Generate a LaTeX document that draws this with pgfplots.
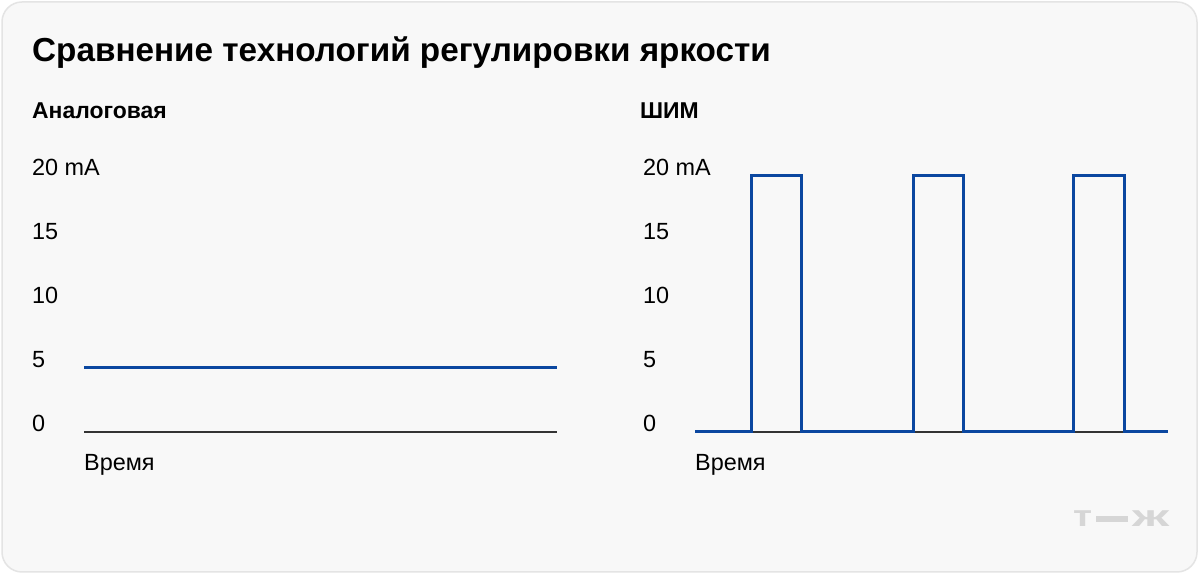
\documentclass[border=0pt]{standalone}
\usepackage{fontspec}
\setmainfont{Liberation Sans}
\usepackage{pgfplots}
\pgfplotsset{compat=1.18}
\definecolor{tjblue}{HTML}{0B47A0}
\definecolor{cardbg}{HTML}{F8F8F8}
\definecolor{cardborder}{HTML}{E4E4E4}
\definecolor{axisgray}{HTML}{333333}
\definecolor{logogray}{HTML}{D6D6D6}
\pgfplotsset{panel/.style={
  scale only axis, width=473bp, height=256bp,
  xmin=0, xmax=100, ymin=0, ymax=20,
  axis line style={draw=none}, major tick style={draw=none},
  xtick=\empty, ytick={0,5,10,15,20}, yticklabels={0,5,10,15,20 mA},
  yticklabel style={anchor=base west, inner sep=0pt, xshift=-52bp, font=\fontsize{23.5}{27}\selectfont},
  clip=false, anchor=south west}}
\begin{document}
\begin{tikzpicture}[x=1bp,y=1bp]
\path[use as bounding box] (0,0) rectangle (1200,575);
\fill[white] (0,0) rectangle (1200,575);
\draw[draw=cardborder, fill=cardbg, rounded corners=20bp, line width=1.5bp] (2,3) rectangle (1197,573);
\node[anchor=base west, inner sep=0pt, font=\fontsize{33.4}{38}\selectfont\bfseries] at (32,513) {Сравнение технологий регулировки яркости};
\node[anchor=base west, inner sep=0pt, font=\fontsize{23}{27}\selectfont\bfseries] at (32,456) {Аналоговая};
\node[anchor=base west, inner sep=0pt, font=\fontsize{23}{27}\selectfont\bfseries] at (640,456) {ШИМ};
\node[anchor=base west, inner sep=0pt, font=\fontsize{23.5}{27}\selectfont] at (84,104) {Время};
\node[anchor=base west, inner sep=0pt, font=\fontsize{23.5}{27}\selectfont] at (695,104) {Время};
\node[anchor=base west, inner sep=0pt, text=logogray, font=\fontsize{30}{34}\selectfont\bfseries] at (1073,48) {\scalebox{1.3}[1]{т}\hspace{4bp}\rule[5bp]{32bp}{5.5bp}\hspace{4bp}\scalebox{1.75}[1]{ж}};
\begin{axis}[panel, at={(84bp,143bp)}]
\addplot[axisgray, line width=1.3bp] coordinates {(0,0) (100,0)};
\addplot[tjblue, line width=3bp] coordinates {(0,5) (100,5)};
\end{axis}
\begin{axis}[panel, at={(695bp,143bp)}]
\addplot[axisgray, line width=1.3bp] coordinates {(0,0) (100,0)};
\addplot[tjblue, line width=3bp, line join=miter] coordinates {
(0,0) (12.0,0) (12.0,20) (22.6,20) (22.6,0)
(46.1,0) (46.1,20) (56.7,20) (56.7,0)
(80.1,0) (80.1,20) (90.7,20) (90.7,0) (100,0)};
\end{axis}
\end{tikzpicture}
\end{document}
